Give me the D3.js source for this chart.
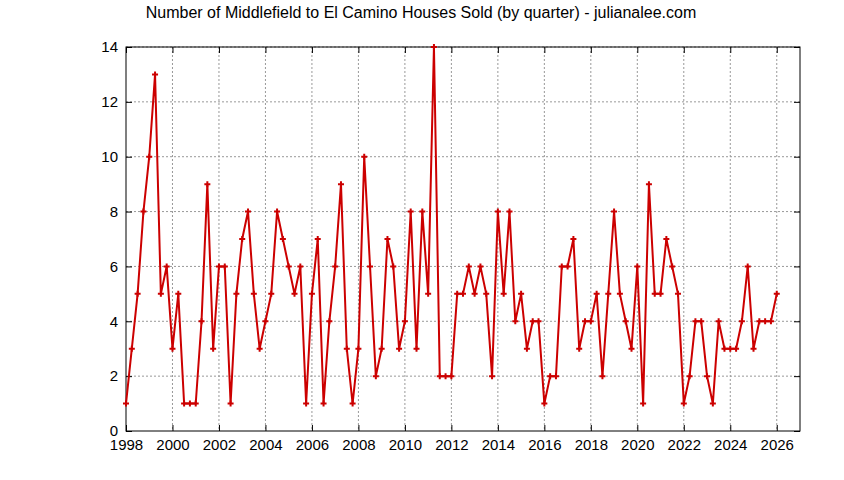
<!DOCTYPE html>
<html><head><meta charset="utf-8">
<script src="https://cdn.jsdelivr.net/npm/d3@7"></script>
<style>body{margin:0;background:#fff}text{font-family:"Liberation Sans",Arial,sans-serif}</style>
</head><body><div id="chart"></div>
<script>
// houses sold per quarter, starting 1998 Q1
var startYear = 1998
var sold = [1,3,5,8,10,13,5,6,3,5,1,1,1,4,9,3,6,6,1,5,7,8,5,3,4,5,8,7,6,5,6,
    1,5,7,1,4,6,9,3,1,3,10,6,2,3,7,6,3,4,8,3,8,5,14,2,2,2,5,5,6,
    5,6,5,2,8,5,8,4,5,3,4,4,1,2,2,6,6,7,3,4,4,5,2,5,8,5,4,3,6,
    1,9,5,5,7,6,5,1,2,4,4,2,1,4,3,3,3,4,6,3,4,4,4,5]
var yTicks = [0,2,4,6,8,10,12,14]
var xTicks = d3.range(1998, 2027, 2)

var width = 844, height = 480
var margin = { top: 47, right: 44, bottom: 49, left: 126 }

var svg = d3.select("#chart").append("svg")
    .attr("width", width).attr("height", height)
var g = svg.append("g").attr("transform", `translate(${margin.left},${margin.top})`)
var w = width - margin.left - margin.right, h = height - margin.top - margin.bottom

var x = d3.scaleLinear().domain([1998, 2027]).range([0, w])
var y = d3.scaleLinear().domain([0, 14]).range([h, 0])

// grid
g.append("g").selectAll("line").data(xTicks.slice(1)).join("line")
    .attr("x1", d => x(d)).attr("x2", d => x(d)).attr("y1", 0).attr("y2", h)
    .attr("stroke", "#999").attr("stroke-dasharray", "2,2")
g.append("g").selectAll("line").data(yTicks.slice(1)).join("line")
    .attr("x1", 0).attr("x2", w).attr("y1", d => y(d)).attr("y2", d => y(d))
    .attr("stroke", "#999").attr("stroke-dasharray", "2,2")

var xAxis = g.append("g").attr("transform", `translate(0,${h})`)
    .call(d3.axisBottom(x).tickValues(xTicks).tickFormat(d3.format("d")).tickSize(-6).tickPadding(8))
var xTop = g.append("g").call(d3.axisTop(x).tickValues(xTicks).tickFormat("").tickSize(-6))
var yAxis = g.append("g").call(d3.axisLeft(y).tickValues(yTicks).tickSize(-6).tickPadding(8))
var yRight = g.append("g").attr("transform", `translate(${w},0)`)
    .call(d3.axisRight(y).tickValues(yTicks).tickFormat("").tickSize(-6))
;[xAxis, xTop, yAxis, yRight].forEach(a => {
    a.select(".domain").remove()
    a.selectAll("line").attr("stroke", "#000")
    a.selectAll("text").attr("font-size", 15).attr("fill", "#000").attr("font-family", "Liberation Sans, Arial, sans-serif")
})
g.append("rect").attr("width", w).attr("height", h).attr("fill", "none").attr("stroke", "#000")

var pts = sold.map((v, i) => ({ t: startYear + i / 4, v: v }))
g.append("path").datum(pts)
    .attr("fill", "none").attr("stroke", "#cc0000").attr("stroke-width", 2)
    .attr("d", d3.line().x(d => x(d.t)).y(d => y(d.v)))
g.append("g").selectAll("path").data(pts).join("path")
    .attr("d", d => `M${x(d.t) - 3},${y(d.v)}h6M${x(d.t)},${y(d.v) - 3}v6`)
    .attr("stroke", "#cc0000").attr("stroke-width", 2)

svg.append("text").attr("x", 421).attr("y", 18).attr("text-anchor", "middle")
    .attr("font-size", 16).text("Number of Middlefield to El Camino Houses Sold (by quarter) - julianalee.com")
</script></body></html>
